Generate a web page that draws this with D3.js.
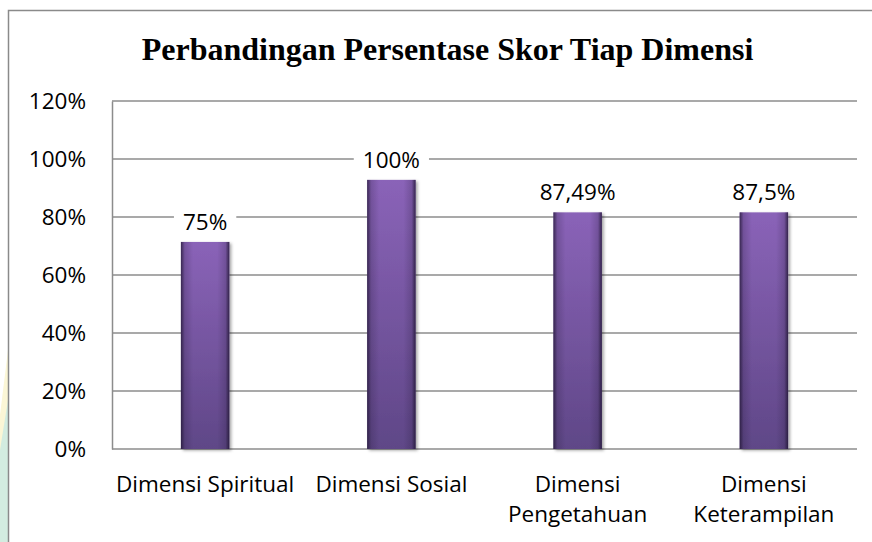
<!DOCTYPE html>
<html>
<head>
<meta charset="utf-8">
<script src="https://cdnjs.cloudflare.com/ajax/libs/d3/7.8.5/d3.min.js"></script>
<style>
  body { margin: 0; background: #fff; }
  text { font-family: "Open Sans", Lato, sans-serif; fill: #000; }
</style>
</head>
<body>
<div id="chart"></div>
<script>
    // data
    var categories = ["Dimensi Spiritual", "Dimensi Sosial", "Dimensi Pengetahuan", "Dimensi Keterampilan"];
    var barValues = [71.4, 92.8, 81.6, 81.6];   // drawn heights
    var barLabels = ["75%", "100%", "87,49%", "87,5%"];
    var yTicks = [0, 20, 40, 60, 80, 100, 120];
    var title = "Perbandingan Persentase Skor Tiap Dimensi";

    var width = 872;
    var height = 542;

    var svg = d3.select("#chart")
          .append("svg")
          .attr("width", width)
          .attr("height", height);

    var defs = svg.append("defs");

    var vGrad = defs.append("linearGradient")
        .attr("id", "barV")
        .attr("x1", 0).attr("y1", 0).attr("x2", 0).attr("y2", 1);
    vGrad.append("stop").attr("offset", "0%").attr("stop-color", "#8a63b8");
    vGrad.append("stop").attr("offset", "100%").attr("stop-color", "#5f4787");

    var hGrad = defs.append("linearGradient")
        .attr("id", "barH")
        .attr("x1", 0).attr("y1", 0).attr("x2", 1).attr("y2", 0);
    hGrad.append("stop").attr("offset", "0%").attr("stop-color", "#1e1430").attr("stop-opacity", 0.75);
    hGrad.append("stop").attr("offset", "8%").attr("stop-color", "#1e1430").attr("stop-opacity", 0.2);
    hGrad.append("stop").attr("offset", "25%").attr("stop-color", "#1e1430").attr("stop-opacity", 0);
    hGrad.append("stop").attr("offset", "75%").attr("stop-color", "#1e1430").attr("stop-opacity", 0);
    hGrad.append("stop").attr("offset", "92%").attr("stop-color", "#1e1430").attr("stop-opacity", 0.2);
    hGrad.append("stop").attr("offset", "100%").attr("stop-color", "#1e1430").attr("stop-opacity", 0.8);

    var shadow = defs.append("filter")
        .attr("id", "shadow")
        .attr("x", "-20%").attr("y", "-5%").attr("width", "150%").attr("height", "115%");
    shadow.append("feDropShadow")
        .attr("dx", 2).attr("dy", 1.5)
        .attr("stdDeviation", 1.5)
        .attr("flood-color", "#000")
        .attr("flood-opacity", 0.35);

    // faint watermark on the left edge
    svg.append("polygon")
       .attr("points", "0,415 8,350 8,430 0,480")
       .attr("fill", "#fbf6d6");
    svg.append("polygon")
       .attr("points", "0,450 8,400 8,542 0,542")
       .attr("fill", "#d3ece0");

    // outer frame
    svg.append("path")
       .attr("d", "M8.5,542V10.5H872")
       .attr("fill", "none")
       .attr("stroke", "#8a8a8a")
       .attr("stroke-width", 1.5);

    svg.append("text")
       .attr("x", 447.5)
       .attr("y", 59.5)
       .attr("text-anchor", "middle")
       .style("font-family", "'Liberation Serif', 'Times New Roman', serif")
       .style("font-weight", "bold")
       .style("font-size", "32px")
       .text(title);

    var plotLeft = 112, plotRight = 857, plotTop = 101, plotBottom = 449;

    var x = d3.scaleBand()
        .domain(categories)
        .range([plotLeft, plotRight])
        .paddingInner(0.74)
        .paddingOuter(0.37);

    var y = d3.scaleLinear()
        .domain([0, 120])
        .range([plotBottom, plotTop]);

    // gridlines
    svg.append("g")
       .selectAll("line")
       .data(yTicks)
       .enter()
       .append("line")
       .attr("x1", plotLeft)
       .attr("x2", plotRight)
       .attr("y1", function(d){ return y(d); })
       .attr("y2", function(d){ return y(d); })
       .attr("stroke", "#8c8c8c")
       .attr("stroke-width", 1.5);

    // value axis
    var yAxis = svg.append("g")
       .attr("transform", "translate(" + plotLeft + ",0)")
       .call(d3.axisLeft(y).tickValues(yTicks).tickSize(0).tickPadding(26)
             .tickFormat(function(d){ return d + "%"; }));
    yAxis.select(".domain").attr("stroke", "#8c8c8c").attr("stroke-width", 1.5);
    yAxis.selectAll("text")
       .style("font-family", "'Open Sans', sans-serif")
       .style("font-size", "22.5px")
       .attr("fill", "#000");

    // bars
    var bars = svg.append("g")
       .selectAll("g")
       .data(categories)
       .enter()
       .append("g");

    bars.append("rect")
       .attr("x", function(d){ return x(d); })
       .attr("y", function(d, i){ return y(barValues[i]); })
       .attr("width", x.bandwidth())
       .attr("height", function(d, i){ return y(0) - y(barValues[i]); })
       .attr("fill", "url(#barV)")
       .attr("filter", "url(#shadow)");

    bars.append("rect")
       .attr("x", function(d){ return x(d); })
       .attr("y", function(d, i){ return y(barValues[i]); })
       .attr("width", x.bandwidth())
       .attr("height", function(d, i){ return y(0) - y(barValues[i]); })
       .attr("fill", "url(#barH)");

    // data labels with white boxes
    var labels = svg.append("g")
       .selectAll("g")
       .data(categories)
       .enter()
       .append("g");

    labels.append("text")
       .attr("x", function(d){ return x(d) + x.bandwidth() / 2; })
       .attr("y", function(d, i){ return y(barValues[i]) - 12; })
       .attr("text-anchor", "middle")
       .style("font-size", "22.5px")
       .text(function(d, i){ return barLabels[i]; })
       .each(function(){
          var b = this.getBBox();
          d3.select(this.parentNode).insert("rect", "text")
            .attr("x", b.x - 9)
            .attr("y", b.y + 3)
            .attr("width", b.width + 18)
            .attr("height", b.height - 6)
            .attr("fill", "#fff");
       });

    // category labels, wrapped to the band
    var step = x.step();
    svg.append("g")
       .selectAll("text")
       .data(categories)
       .enter()
       .append("text")
       .attr("text-anchor", "middle")
       .style("font-size", "22.5px")
       .each(function(d){
          var t = d3.select(this);
          var cx = x(d) + x.bandwidth() / 2;
          var words = d.split(" ");
          var lines = [];
          var line = [];
          var tspan = t.append("tspan").attr("x", cx).attr("y", 492);
          words.forEach(function(w){
            line.push(w);
            tspan.text(line.join(" "));
            if (tspan.node().getComputedTextLength() > step - 2 && line.length > 1) {
              line.pop();
              lines.push(line.join(" "));
              line = [w];
            }
            tspan.text(line.join(" "));
          });
          lines.push(line.join(" "));
          t.selectAll("tspan").remove();
          lines.forEach(function(l, k){
            t.append("tspan").attr("x", cx).attr("y", 492 + k * 29.5).text(l);
          });
       });
</script>
</body>
</html>
